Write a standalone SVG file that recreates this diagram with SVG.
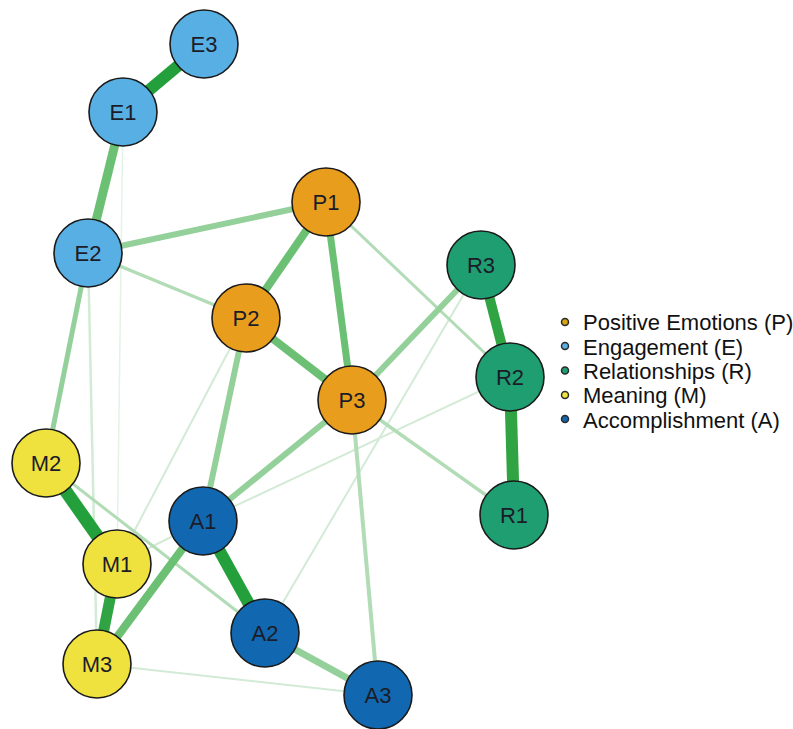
<svg xmlns="http://www.w3.org/2000/svg" width="793" height="729" viewBox="0 0 793 729">
<style>
.e{fill:none;stroke-linecap:butt}
.s1{stroke:#23a03b}
.s2{stroke:#30a443}
.s3{stroke:#6cc073}
.s4{stroke:#93d09a}
.s5{stroke:#b2dcb6}
.s6{stroke:#d3ebd6}
.s7{stroke:#e4f3e6}
.n{stroke:#1a1a1a;stroke-width:1.6}
.E{fill:#58afe3}.P{fill:#e99d1d}.R{fill:#1f9e72}.M{fill:#f0e23e}.A{fill:#1268b0}
.lb{font-family:"Liberation Sans",Arial,sans-serif;font-size:22px;fill:#1c1c28;text-anchor:middle}
.lg{font-family:"Liberation Sans",Arial,sans-serif;font-size:22px;fill:#111}
.bd{stroke:#2a2a2a;stroke-width:1.5}
</style>
<rect width="793" height="729" fill="#ffffff"/>
<g id="edges">
<line class="e s7" x1="123" y1="112" x2="117" y2="564" stroke-width="1.5"/>
<line class="e s6" x1="88" y1="253" x2="97" y2="664" stroke-width="2.5"/>
<line class="e s6" x1="246" y1="318" x2="117" y2="564" stroke-width="2"/>
<line class="e s6" x1="203" y1="521" x2="510" y2="377" stroke-width="2"/>
<line class="e s6" x1="265" y1="633" x2="481" y2="265" stroke-width="2"/>
<line class="e s6" x1="97" y1="664" x2="378" y2="695" stroke-width="2"/>
<line class="e s6" x1="203" y1="521" x2="117" y2="564" stroke-width="2"/>
<line class="e s5" x1="46" y1="463" x2="265" y2="633" stroke-width="3"/>
<line class="e s5" x1="326" y1="202" x2="510" y2="377" stroke-width="3"/>
<line class="e s5" x1="88" y1="253" x2="246" y2="318" stroke-width="3.5"/>
<line class="e s5" x1="352" y1="400" x2="514" y2="515" stroke-width="3.5"/>
<line class="e s5" x1="352" y1="400" x2="378" y2="695" stroke-width="4"/>
<line class="e s4" x1="88" y1="253" x2="46" y2="463" stroke-width="5"/>
<line class="e s4" x1="88" y1="253" x2="326" y2="202" stroke-width="6"/>
<line class="e s4" x1="246" y1="318" x2="203" y2="521" stroke-width="6"/>
<line class="e s4" x1="352" y1="400" x2="203" y2="521" stroke-width="6"/>
<line class="e s4" x1="352" y1="400" x2="481" y2="265" stroke-width="6"/>
<line class="e s4" x1="265" y1="633" x2="378" y2="695" stroke-width="7"/>
<line class="e s3" x1="326" y1="202" x2="246" y2="318" stroke-width="8"/>
<line class="e s3" x1="246" y1="318" x2="352" y2="400" stroke-width="8"/>
<line class="e s3" x1="326" y1="202" x2="352" y2="400" stroke-width="7"/>
<line class="e s3" x1="203" y1="521" x2="97" y2="664" stroke-width="8"/>
<line class="e s3" x1="123" y1="112" x2="88" y2="253" stroke-width="9"/>
<line class="e s2" x1="481" y1="265" x2="510" y2="377" stroke-width="10"/>
<line class="e s2" x1="117" y1="564" x2="97" y2="664" stroke-width="11"/>
<line class="e s1" x1="204" y1="44" x2="123" y2="112" stroke-width="12"/>
<line class="e s1" x1="46" y1="463" x2="117" y2="564" stroke-width="13"/>
<line class="e s1" x1="203" y1="521" x2="265" y2="633" stroke-width="12"/>
<line class="e s2" x1="510" y1="377" x2="514" y2="515" stroke-width="12"/>
</g>
<g id="E3"><circle class="n E" cx="204" cy="44" r="34"/><text class="lb" x="204" y="52">E3</text></g>
<g id="E1"><circle class="n E" cx="123" cy="112" r="34"/><text class="lb" x="123" y="120">E1</text></g>
<g id="E2"><circle class="n E" cx="88" cy="253" r="34"/><text class="lb" x="88" y="261">E2</text></g>
<g id="P1"><circle class="n P" cx="326" cy="202" r="34"/><text class="lb" x="326" y="210">P1</text></g>
<g id="P2"><circle class="n P" cx="246" cy="318" r="34"/><text class="lb" x="246" y="326">P2</text></g>
<g id="P3"><circle class="n P" cx="352" cy="400" r="34"/><text class="lb" x="352" y="408">P3</text></g>
<g id="R3"><circle class="n R" cx="481" cy="265" r="34"/><text class="lb" x="481" y="273">R3</text></g>
<g id="R2"><circle class="n R" cx="510" cy="377" r="34"/><text class="lb" x="510" y="385">R2</text></g>
<g id="R1"><circle class="n R" cx="514" cy="515" r="34"/><text class="lb" x="514" y="523">R1</text></g>
<g id="M2"><circle class="n M" cx="46" cy="463" r="34"/><text class="lb" x="46" y="471">M2</text></g>
<g id="M1"><circle class="n M" cx="117" cy="564" r="34"/><text class="lb" x="117" y="572">M1</text></g>
<g id="M3"><circle class="n M" cx="97" cy="664" r="34"/><text class="lb" x="97" y="672">M3</text></g>
<g id="A1"><circle class="n A" cx="203" cy="521" r="34"/><text class="lb" x="203" y="529">A1</text></g>
<g id="A2"><circle class="n A" cx="265" cy="633" r="34"/><text class="lb" x="265" y="641">A2</text></g>
<g id="A3"><circle class="n A" cx="378" cy="695" r="34"/><text class="lb" x="378" y="703">A3</text></g>
<g id="legend">
<circle class="bd" cx="565" cy="322" r="3.5" fill="#d4a414"/>
<text class="lg" x="583" y="330">Positive Emotions (P)</text>
<circle class="bd" cx="565" cy="346" r="3.5" fill="#58afe3"/>
<text class="lg" x="583" y="354.5">Engagement (E)</text>
<circle class="bd" cx="565" cy="370.5" r="3.5" fill="#1f9e72"/>
<text class="lg" x="583" y="379">Relationships (R)</text>
<circle class="bd" cx="565" cy="395" r="3.5" fill="#f0e23e"/>
<text class="lg" x="583" y="403">Meaning (M)</text>
<circle class="bd" cx="565" cy="419" r="3.5" fill="#1268b0"/>
<text class="lg" x="583" y="427.5">Accomplishment (A)</text>
</g>
</svg>
